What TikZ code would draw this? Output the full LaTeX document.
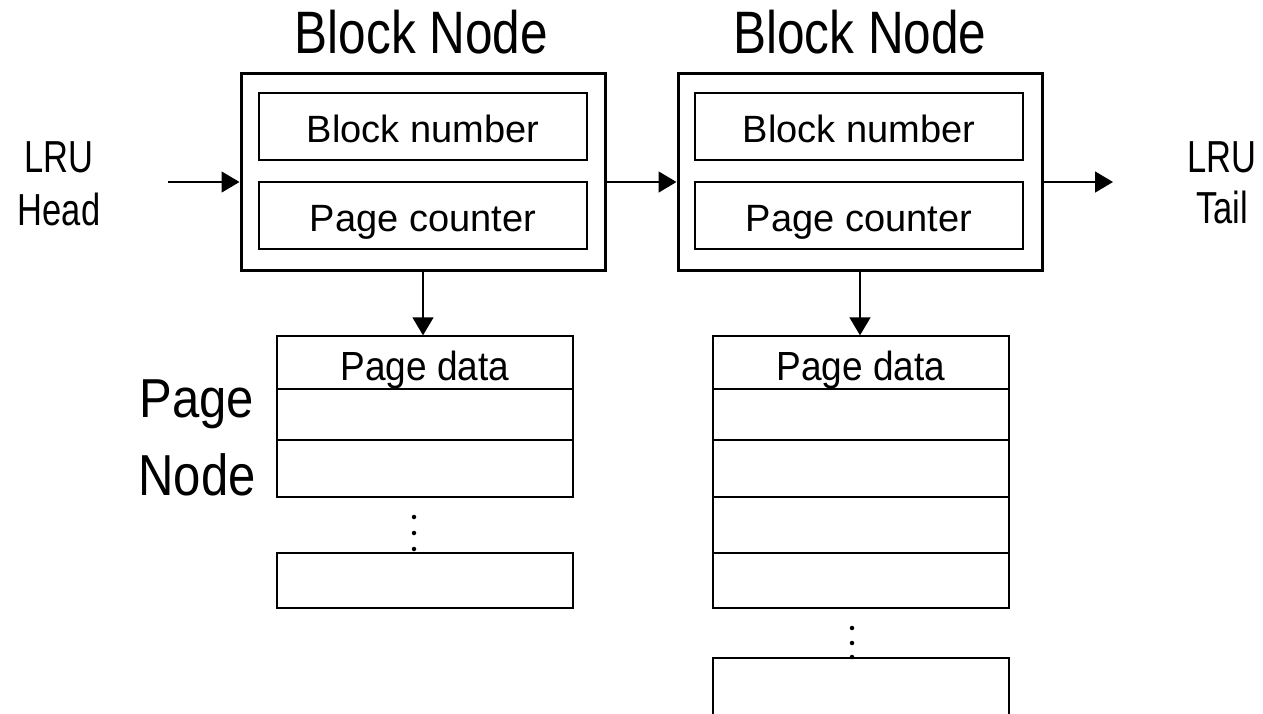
\documentclass[tikz,border=0pt]{standalone}
\usepackage{fontspec}
\setmainfont{Liberation Sans}
\usepackage{graphicx}
\usetikzlibrary{arrows.meta}
\newcommand{\vstretch}[2]{\scalebox{1}[#1]{#2}}
\begin{document}
\begin{tikzpicture}[x=1pt,y=-1pt,
  outer/.style={draw, line width=3pt, minimum width=364pt, minimum height=197pt, inner sep=0pt},
  field/.style={draw, line width=1.4pt, minimum width=328pt, minimum height=67pt, inner sep=0pt,
    text height=32pt, text depth=0pt, font=\fontsize{38}{38}\selectfont},
  cell/.style={draw, line width=1.4pt, minimum width=296pt, inner sep=0pt},
  celltext/.style={text height=35pt, text depth=0pt, font=\fontsize{37}{37}\selectfont},
  lbl/.style={anchor=base, inner sep=0pt},
  biglbl/.style={lbl, font=\fontsize{49.5}{50}\selectfont},
  sidelbl/.style={lbl, font=\fontsize{34.5}{34}\selectfont},
  arr/.style={line width=1.5pt, -{Triangle[length=18pt,width=21pt]}},
  dotm/.style={circle, fill, inner sep=0pt, minimum size=4.5pt}]
\clip (0,0) rectangle (1263,713);
\fill[white] (0,0) rectangle (1263,713);

% titles
\node[biglbl] (t1) at (421.5,53) {\vstretch{1.21}{Block Node}};
\node[biglbl] (t2) at (860,53) {\vstretch{1.21}{Block Node}};

% block nodes
\node[outer] (o1) at (423,171.5) {};
\node[outer] (o2) at (860,171.5) {};
\node[field] (bn1) at (423,126.5) {Block number};
\node[field] (pc1) at (423,215.5) {Page counter};
\node[field] (bn2) at (859,126.5) {Block number};
\node[field] (pc2) at (859,215.5) {Page counter};

% LRU labels
\node[sidelbl] (hl1) at (59,172) {\vstretch{1.3}{LRU}};
\node[sidelbl] (hl2) at (59,225) {\vstretch{1.3}{Head}};
\node[sidelbl] (tl1) at (1222,172) {\vstretch{1.3}{LRU}};
\node[sidelbl] (tl2) at (1222,223) {\vstretch{1.3}{Tail}};

% page stack 1
\node[cell, minimum height=53pt, celltext] (p1a) at (425,362.5) {\vstretch{1.1}{Page data}};
\node[cell, minimum height=51pt] (p1b) at (425,414.5) {};
\node[cell, minimum height=57pt] (p1c) at (425,468.5) {};
\node[cell, minimum height=55pt] (p1z) at (425,580.5) {};
\node[dotm] (d1a) at (414,517) {};
\node[dotm] (d1b) at (414,533) {};
\node[dotm] (d1c) at (414,549) {};

% page stack 2
\node[cell, minimum height=53pt, celltext] (p2a) at (861,362.5) {\vstretch{1.1}{Page data}};
\node[cell, minimum height=51pt] (p2b) at (861,414.5) {};
\node[cell, minimum height=57pt] (p2c) at (861,468.5) {};
\node[cell, minimum height=56pt] (p2d) at (861,525) {};
\node[cell, minimum height=55pt] (p2e) at (861,580.5) {};
\node[cell, minimum height=62pt] (p2z) at (861,689) {};
\node[dotm] (d2a) at (852,628) {};
\node[dotm] (d2b) at (852,643) {};
\node[dotm] (d2c) at (852,657) {};

% Page Node label
\node[biglbl, font=\fontsize{49}{49}\selectfont] (pn1) at (197,417) {\vstretch{1.12}{Page}};
\node[biglbl, font=\fontsize{49}{49}\selectfont] (pn2) at (197,495) {\vstretch{1.18}{Node}};

% connectors
\coordinate (hd) at (168,182);
\coordinate (tt) at (1113,182);
\draw[arr] (hd) -- (hd -| o1.west);
\draw[arr] (o1.east |- hd) -- (o2.west |- hd);
\draw[arr] (o2.east |- hd) -- (tt);
\draw[arr] (o1.south) -- (o1.south |- p1a.north);
\draw[arr] (o2.south) -- (o2.south |- p2a.north);
\end{tikzpicture}
\end{document}
